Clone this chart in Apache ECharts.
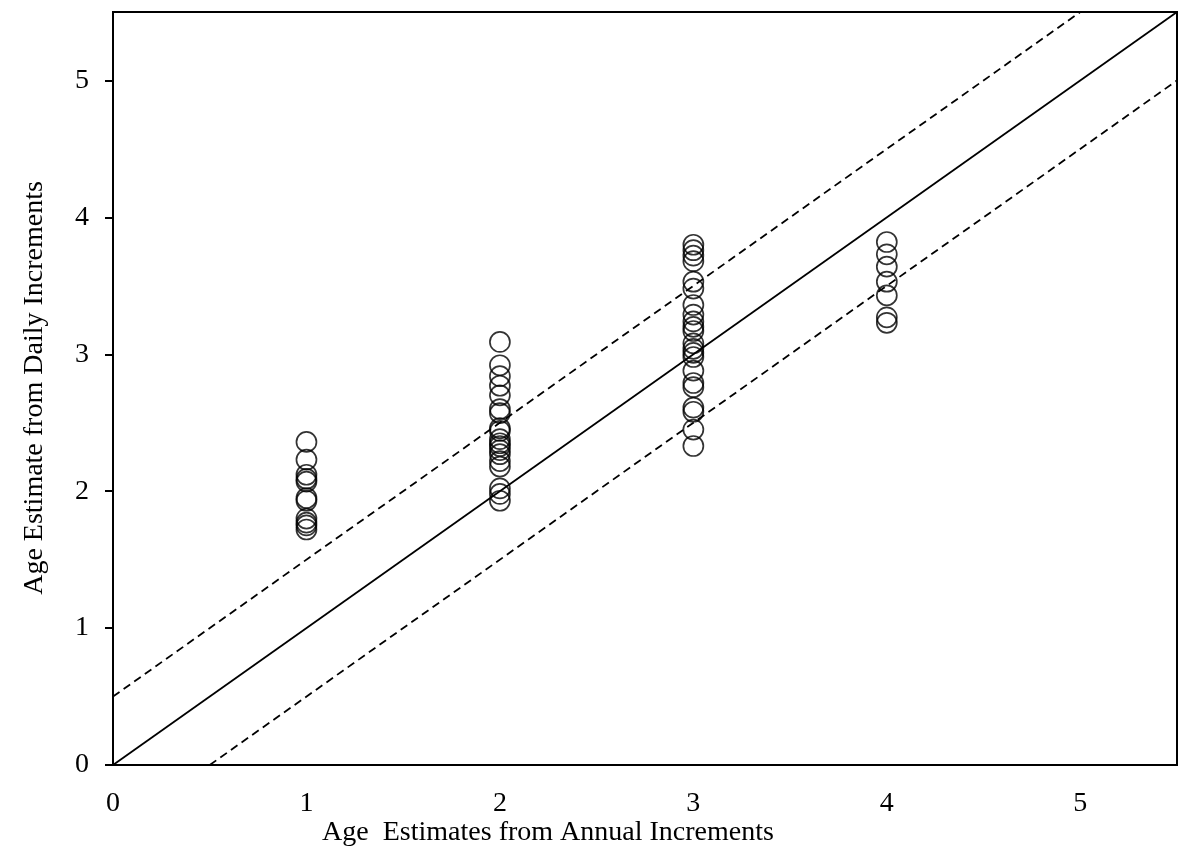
<!DOCTYPE html>
<html>
<head>
<meta charset="utf-8">
<script src="https://cdn.jsdelivr.net/npm/echarts@6/dist/echarts.min.js"></script>
<style>
  html, body { margin: 0; padding: 0; background: #fff; }
  #chart { width: 1191px; height: 864px; }
</style>
</head>
<body>
<div id="chart"></div>
<script>
// daily-increment age estimates for each annual-increment age
var age1 = [2.36, 2.23, 2.12, 2.09, 2.07, 1.95, 1.93, 1.80, 1.77, 1.75, 1.72];
var age2 = [3.09, 2.92, 2.84, 2.77, 2.70, 2.60, 2.57, 2.46, 2.44, 2.38, 2.35, 2.33, 2.30, 2.27, 2.22, 2.18, 2.02, 1.98, 1.93];
var age3 = [3.80, 3.76, 3.72, 3.68, 3.53, 3.48, 3.36, 3.29, 3.24, 3.20, 3.17, 3.08, 3.04, 3.01, 2.98, 2.88, 2.79, 2.76, 2.61, 2.58, 2.45, 2.33];
var age4 = [3.82, 3.73, 3.64, 3.53, 3.43, 3.27, 3.23];
var tickValues = [0, 1, 2, 3, 4, 5];

// 1:1 line and +/- 0.5 year lines
var oneToOne = [[0, 0], [5.5, 5.5]];
var upperLine = [[0, 0.5], [5, 5.5]];
var lowerLine = [[0.5, 0], [5.5, 5]];

var points = [];
[age1, age2, age3, age4].forEach(function (arr, i) {
  arr.forEach(function (v) { points.push([i + 1, v]); });
});

var font = '"Liberation Serif", "Times New Roman", serif';
var chart = echarts.init(document.getElementById('chart'));

var option = {
  animation: false,
  backgroundColor: '#fff',
  grid: {
    left: 113, right: 14, top: 12, bottom: 99,
    show: true, borderColor: '#000', borderWidth: 2, backgroundColor: 'transparent'
  },
  xAxis: {
    type: 'value', min: 0, max: 5.5, interval: 1,
    splitLine: { show: false },
    axisLine: { lineStyle: { color: '#000', width: 2 } },
    axisTick: { show: false },
    axisLabel: {
      customValues: tickValues,
      color: '#000', fontFamily: font, fontSize: 28, margin: 25
    }
  },
  yAxis: {
    type: 'value', min: 0, max: 5.5, interval: 1,
    splitLine: { show: false },
    axisLine: { show: true, lineStyle: { color: '#000', width: 2 } },
    axisTick: { show: true, length: 8, customValues: tickValues, lineStyle: { color: '#000', width: 2 } },
    axisLabel: {
      customValues: tickValues,
      color: '#000', fontFamily: font, fontSize: 28, margin: 24
    }
  },
  graphic: [
    {
      type: 'text', x: 548, y: 833,
      style: {
        text: 'Age  Estimates from Annual Increments',
        font: '28px ' + font, fill: '#000',
        textAlign: 'center', textVerticalAlign: 'middle'
      }
    },
    {
      type: 'text', x: 35, y: 388, rotation: Math.PI / 2,
      style: {
        text: 'Age Estimate from Daily Increments',
        font: '28px ' + font, fill: '#000',
        textAlign: 'center', textVerticalAlign: 'middle'
      }
    }
  ],
  series: [
    {
      type: 'line', data: oneToOne, symbol: 'none', silent: true,
      lineStyle: { color: '#000', width: 1.8 }
    },
    {
      type: 'line', data: upperLine, symbol: 'none', silent: true,
      lineStyle: { color: '#000', width: 1.8, type: [8, 5] }
    },
    {
      type: 'line', data: lowerLine, symbol: 'none', silent: true,
      lineStyle: { color: '#000', width: 1.8, type: [8, 5] }
    },
    {
      type: 'scatter', data: points, symbol: 'circle', symbolSize: 20,
      itemStyle: { color: 'transparent', borderColor: '#000', borderWidth: 1.7 }
    }
  ]
};
chart.setOption(option);
</script>
</body>
</html>
